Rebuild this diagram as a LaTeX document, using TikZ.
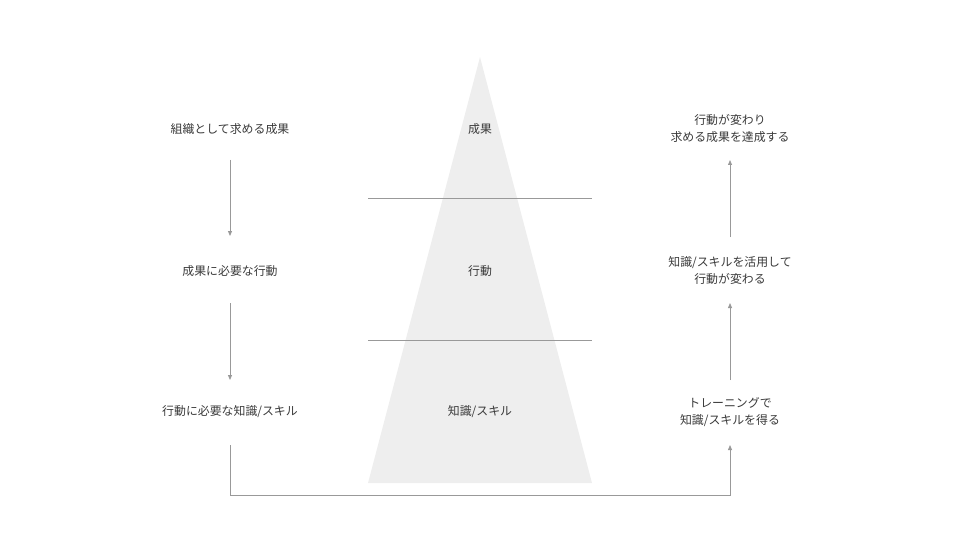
\documentclass[tikz,border=0pt]{standalone}
\usepackage{fontspec}
\usepackage{tikz}
\usepackage{xcolor}
\usetikzlibrary{arrows.meta}
\setmainfont{Noto Sans CJK JP}
\definecolor{pyramidgray}{HTML}{EEEEEE}
\definecolor{linegray}{HTML}{999999}
\definecolor{textgray}{HTML}{3A3A3A}

\begin{document}
\begin{tikzpicture}[x=1pt, y=-1pt,
        label text/.style={text=textgray, font=\fontsize{11.9}{17}\selectfont, align=center, inner sep=0pt},
        flow arrow/.style={draw=linegray, line width=0.8pt, -{Triangle[length=5pt, width=4pt]}},
        level line/.style={draw=linegray, line width=0.8pt}]
        \useasboundingbox (0,0) rectangle (960,540);
        % pyramid
        \fill[pyramidgray] (480,57) -- (592,483) -- (368,483) -- cycle;
        \draw[level line] (368,198) -- (592,198);
        \draw[level line] (368,340) -- (592,340);
        \node[label text] (result) at (480,129) {成果};
        \node[label text] (action) at (480,271) {行動};
        \node[label text] (skill) at (480,412) {知識/スキル};
        % left column
        \node[label text] (goal) at (230,129) {組織として求める成果};
        \node[label text] (need) at (230,271) {成果に必要な行動};
        \node[label text] (know) at (230,412) {行動に必要な知識/スキル};
        % right column
        \node[label text] (achieve) at (730,128) {行動が変わり\\求める成果を達成する};
        \node[label text] (apply) at (730,270) {知識/スキルを活用して\\行動が変わる};
        \node[label text] (train) at (730,412) {トレーニングで\\知識/スキルを得る};
        \coordinate (bottom) at (230,495);
        \draw[flow arrow, shorten <=31pt, shorten >=35pt] (goal.center) -- (need.center);
        \draw[flow arrow, shorten <=32pt, shorten >=32pt] (need.center) -- (know.center);
        \draw[flow arrow, shorten <=33pt, shorten >=33pt] (know.center) -- (bottom) -| (train.center);
        \draw[flow arrow, shorten <=33pt, shorten >=32pt] (apply.center) -- (achieve.center);
        \draw[flow arrow, shorten <=32pt, shorten >=33pt] (train.center) -- (apply.center);
    \end{tikzpicture}
\end{document}
